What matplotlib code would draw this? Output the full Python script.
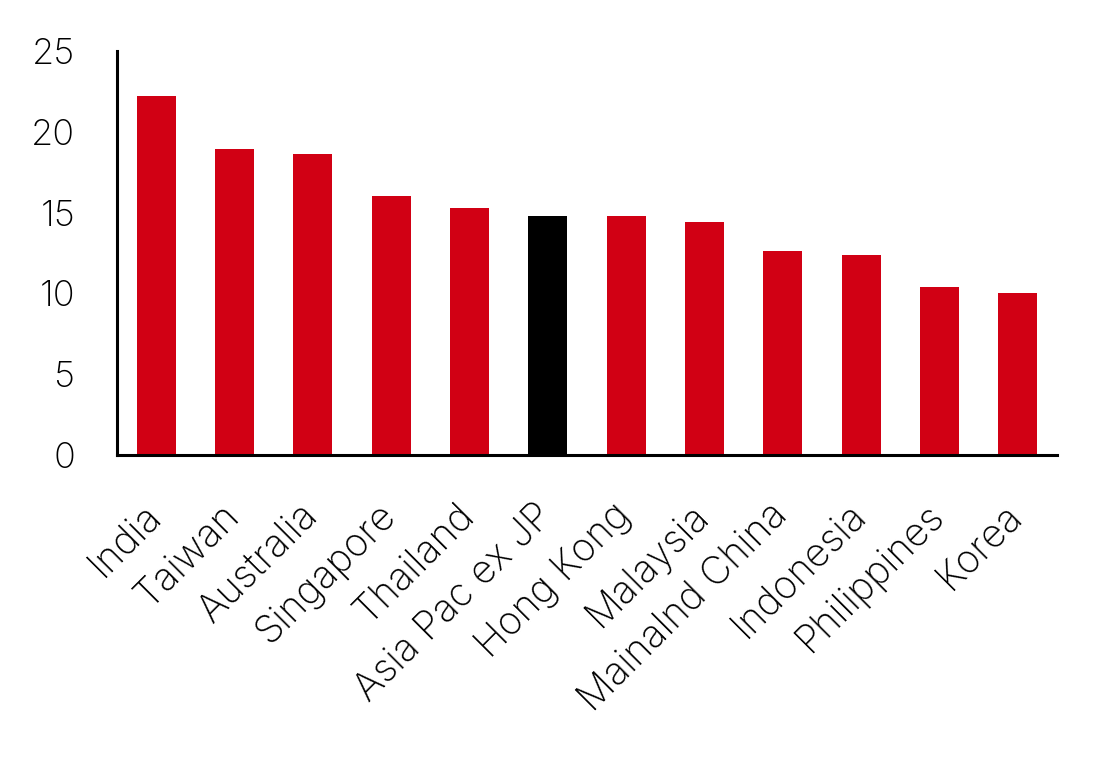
import matplotlib
matplotlib.use("Agg")
import matplotlib.pyplot as plt
from matplotlib.transforms import ScaledTranslation

countries = ["India", "Taiwan", "Australia", "Singapore", "Thailand",
             "Asia Pac ex JP", "Hong Kong", "Malaysia", "Mainalnd China",
             "Indonesia", "Philippines", "Korea"]
values = [22.2, 18.9, 18.6, 16.0, 15.25, 14.8, 14.8, 14.4, 12.6, 12.4, 10.4, 10.0]
highlight = "Asia Pac ex JP"
y_ticks = [0, 5, 10, 15, 20, 25]

plt.rcParams['font.family'] = ['Inter', 'DejaVu Sans']

fig = plt.figure(figsize=(11.08, 7.59), dpi=100)
ax = fig.add_axes([0.1056, 0.4005, 0.8484, 0.5325])

colors = ['#000000' if c == highlight else '#D10014' for c in countries]
x = list(range(len(countries)))
ax.bar(x, values, width=0.5, color=colors)

ax.set_xlim(-0.5, len(countries) - 0.5)
ax.set_ylim(0, 25)
ax.set_yticks(y_ticks)
ax.set_yticklabels([str(t) for t in y_ticks], fontsize=26, fontweight='light')
ax.set_xticks(x)
ax.set_xticklabels(countries, rotation=45, ha='right', rotation_mode='anchor',
                   fontsize=28, fontweight='light')
ax.tick_params(axis='both', length=0, labelcolor='black')
ax.tick_params(axis='y', pad=30)
ax.tick_params(axis='x', pad=30)

# nudge rotated labels a little to the left
shift = ScaledTranslation(-10 / 72, 0, fig.dpi_scale_trans)
for lab in ax.get_xticklabels():
    lab.set_transform(lab.get_transform() + shift)

for s in ['top', 'right']:
    ax.spines[s].set_visible(False)
for s in ['left', 'bottom']:
    ax.spines[s].set_linewidth(2.2)

fig.savefig("out.png", dpi=100)
